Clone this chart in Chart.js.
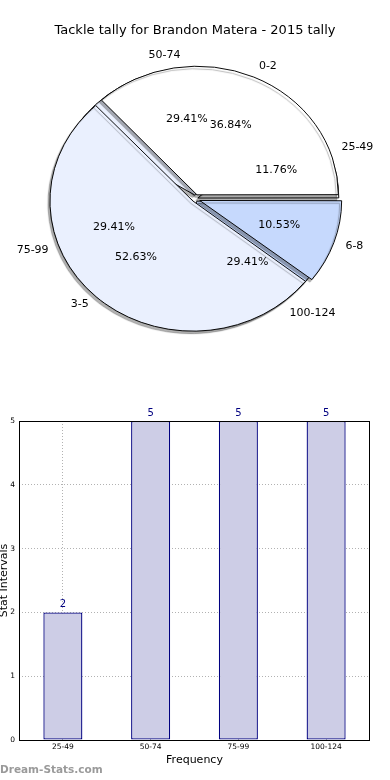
<!DOCTYPE html>
<html><head><meta charset="utf-8">
<script src="https://cdn.jsdelivr.net/npm/chart.js@4.4.1/dist/chart.umd.min.js"></script>
<style>
html,body{margin:0;padding:0;background:#fff;width:390px;height:780px;overflow:hidden;font-family:"DejaVu Sans",sans-serif}
#wrap{position:relative;width:390px;height:780px}
canvas{position:absolute;left:0}
#title{position:absolute;top:22px;left:0;width:390px;text-align:center;font-size:13px;line-height:16px;color:#000;font-family:"DejaVu Sans",sans-serif}
</style></head><body>
<div id="wrap">
<canvas id="pieB" width="390" height="398" style="top:0"></canvas>
<canvas id="pieA" width="390" height="398" style="top:0"></canvas>
<div id="title">Tackle tally for Brandon Matera - 2015 tally</div>
<canvas id="bar" width="390" height="380" style="top:400px"></canvas>
</div>
<script>
// ---- data ----
const pieLabelsA = ['0-2', '3-5', '6-8'];
const pieValuesA = [36.84, 52.63, 10.53];
const pieLabelsB = ['25-49', '50-74', '75-99', '100-124'];
const pieValuesB = [11.76, 29.41, 29.41, 29.41];
const barCategories = ['25-49', '50-74', '75-99', '100-124'];
const barValues = [2, 5, 5, 5];
const yTicks = [0, 1, 2, 3, 4, 5];

// ---- style ----
const FONT = '"DejaVu Sans", sans-serif';
const WHITE = '#ffffff', LIGHT = '#eaf0fe', BLUE = '#c6d9fd';
const colorsA = [WHITE, LIGHT, BLUE];
const colorsB = [WHITE, LIGHT, LIGHT, BLUE];
const explodeA = [20, 12, 20];     // chart.js draws offset/4 px
const explodeB = [12, 18, 12, 12];
const RATIO = 0.91;      // vertical squash of the pie
const RADIUS = 140;

function rev(a){ return a.slice().reverse(); }

function squashPlugin(){
  return {
    id: 'squash',
    beforeDatasetsDraw(chart){
      const ctx = chart.ctx;
      const a = chart.getDatasetMeta(0).data[0];
      ctx.save();
      ctx.translate(a.x, a.y);
      ctx.scale(1, RATIO);
      ctx.translate(-a.x, -a.y);
      ctx.shadowColor = 'rgba(0,0,0,0.3)';
      ctx.shadowOffsetX = -2;
      ctx.shadowOffsetY = 2.5;
      ctx.shadowBlur = 1;
    },
    afterDatasetsDraw(chart){ chart.ctx.restore(); }
  };
}

function pieTexts(src, ctx){
  const meta = src.getDatasetMeta(0);
  const ds = src.data.datasets[0];
  ctx.save();
  ctx.fillStyle = '#000';
  ctx.font = '11px ' + FONT;
  ctx.textBaseline = 'middle';
  meta.data.forEach((arc, i) => {
    const mid = (arc.startAngle + arc.endAngle) / 2;
    const off = (arc.options.offset || 0) / 4;
    const R = RADIUS;
    const ex = arc.x + Math.cos(mid) * off, ey = arc.y + Math.sin(mid) * off;
    const lx = ex + Math.cos(mid) * 1.1 * R, ly = ey + Math.sin(mid) * 1.1 * R;
    const px = ex + Math.cos(mid) * 0.6 * R, py = ey + Math.sin(mid) * 0.6 * R;
    const sy = y => arc.y + (y - arc.y) * RATIO;
    ctx.textAlign = lx >= arc.x ? 'left' : 'right';
    ctx.fillText(src.data.labels[i], lx, sy(ly));
    ctx.textAlign = 'center';
    ctx.fillText(ds.data[i].toFixed(2) + '%', px, sy(py));
  });
  ctx.restore();
}

function pieConfig(labels, values, colors, explode, extra){
  return {
    type: 'pie',
    data: {
      labels: rev(labels),
      datasets: [{
        data: rev(values),
        backgroundColor: rev(colors),
        borderColor: '#000',
        borderWidth: 1,
        offset: rev(explode),
        borderJoinStyle: 'miter'
      }]
    },
    options: {
      responsive: false, animation: false, events: [],
      rotation: 90,
      radius: RADIUS,
      layout: { padding: 0 },
      plugins: { legend: { display: false }, tooltip: { enabled: false } }
    },
    plugins: [squashPlugin()].concat(extra || [])
  };
}

const chartB = new Chart(document.getElementById('pieB'), pieConfig(pieLabelsB, pieValuesB, colorsB, explodeB));
const chartA = new Chart(document.getElementById('pieA'), pieConfig(pieLabelsA, pieValuesA, colorsA, explodeA, [{
  id: 'pieLabels',
  afterDraw(chart){
    pieTexts(chartB, chart.ctx);
    pieTexts(chart, chart.ctx);
  }
}]));

// ---- bar chart ----
const NAVY = '#000080';
const barExtras = {
  id: 'barExtras',
  afterDatasetsDraw(chart){
    const ctx = chart.ctx;
    const meta = chart.getDatasetMeta(0);
    ctx.save();
    ctx.fillStyle = NAVY;
    ctx.font = '10px ' + FONT;
    ctx.textAlign = 'center';
    ctx.textBaseline = 'bottom';
    meta.data.forEach((b, i) => ctx.fillText(String(barValues[i]), b.x, b.y - 3));
    ctx.restore();
  },
  afterDraw(chart){
    const ctx = chart.ctx, a = chart.chartArea;
    ctx.save();
    ctx.strokeStyle = '#000';
    ctx.lineWidth = 1;
    ctx.strokeRect(a.left + 0.5, a.top + 0.5, a.right - a.left - 1, a.bottom - a.top);
    ctx.fillStyle = '#000';
    ctx.font = '11px ' + FONT;
    ctx.textAlign = 'center';
    ctx.textBaseline = 'middle';
    ctx.fillText('Frequency', (a.left + a.right) / 2, 360);
    ctx.save();
    ctx.translate(7, (a.top + a.bottom) / 2);
    ctx.rotate(-Math.PI / 2);
    ctx.textBaseline = 'alphabetic';
    ctx.fillText('Stat Intervals', 0, 0);
    ctx.restore();
    ctx.fillStyle = '#9a9a9a';
    ctx.font = 'bold 10.5px ' + FONT;
    ctx.textAlign = 'left';
    ctx.fillText('Dream-Stats.com', 0, 370);
    ctx.restore();
  }
};

new Chart(document.getElementById('bar'), {
  type: 'bar',
  data: {
    labels: barCategories,
    datasets: [{
      data: barValues,
      backgroundColor: '#cdcde6',
      borderColor: NAVY,
      borderWidth: 1.3,
      borderSkipped: false,
      barPercentage: 0.445,
      categoryPercentage: 1
    }]
  },
  options: {
    responsive: false, animation: false, events: [],
    layout: { padding: { top: 21, right: 20, left: 0, bottom: 0 } },
    plugins: { legend: { display: false }, tooltip: { enabled: false } },
    scales: {
      x: {
        offset: true, z: 1,
        grid: { offset: false, color: 'rgba(0,0,0,0.3)', drawTicks: false },
        border: { display: false, dash: [1, 2] },
        ticks: { font: { size: 7.5, family: FONT }, color: '#000', padding: 3, maxRotation: 0 },
        afterFit(s){ s.height = 40; }
      },
      y: {
        min: 0, max: 5, z: 1,
        afterBuildTicks(s){ s.ticks = yTicks.map(v => ({ value: v })); },
        grid: { color: 'rgba(0,0,0,0.3)', drawTicks: false },
        border: { display: false, dash: [1, 2] },
        ticks: { font: { size: 7.5, family: FONT }, color: '#000', padding: 4 },
        afterFit(s){ s.width = 19; }
      }
    }
  },
  plugins: [barExtras]
});
</script>
</body></html>
